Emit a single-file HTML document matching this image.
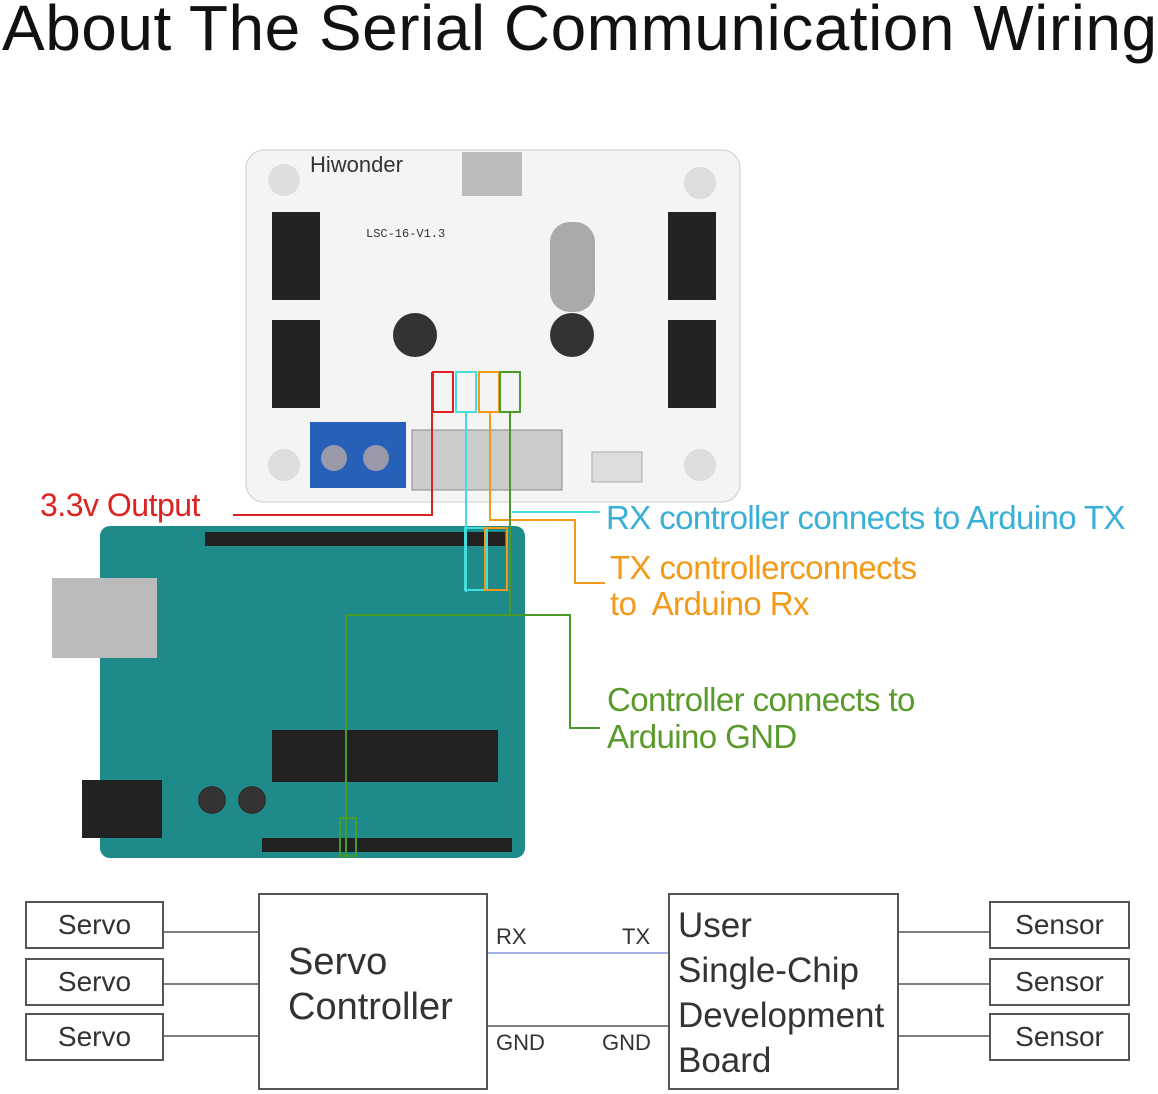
<!DOCTYPE html>
<html><head><meta charset="utf-8"><style>
body{margin:0;width:1158px;height:1094px;background:#fff;overflow:hidden;position:relative;font-family:"Liberation Sans",sans-serif}
.a{position:absolute}
.box{position:absolute;border:2px solid #555;background:#fff;box-sizing:border-box;font-size:28px;color:#333}
.sm{display:flex;align-items:center;justify-content:center}
</style></head><body>
<div class="a" style="left:2px;top:-9px;font-size:64px;color:#111;white-space:nowrap;letter-spacing:0.5px">About The Serial Communication Wiring</div>

<svg class="a" style="left:0;top:0" width="1158" height="1094">
<rect x="246" y="150" width="494" height="352" rx="18" fill="#f4f4f4" stroke="#ccc"/>
<rect x="462" y="152" width="60" height="44" fill="#bbb"/>
<text x="310" y="172" font-size="22" fill="#333" font-family="Liberation Sans">Hiwonder</text>
<text x="366" y="237" font-size="12" fill="#333" font-family="Liberation Mono">LSC-16-V1.3</text>
<g fill="#222"><rect x="272" y="212" width="48" height="88"/><rect x="272" y="320" width="48" height="88"/><rect x="668" y="212" width="48" height="88"/><rect x="668" y="320" width="48" height="88"/></g>
<circle cx="284" cy="180" r="16" fill="#ddd"/><circle cx="700" cy="183" r="16" fill="#ddd"/><circle cx="284" cy="465" r="16" fill="#ddd"/><circle cx="700" cy="465" r="16" fill="#ddd"/>
<circle cx="415" cy="335" r="22" fill="#333"/><circle cx="572" cy="335" r="22" fill="#333"/>
<rect x="550" y="222" width="45" height="90" rx="20" fill="#aaa"/>
<rect x="310" y="422" width="96" height="66" fill="#2760b8"/>
<circle cx="334" cy="458" r="13" fill="#99a"/><circle cx="376" cy="458" r="13" fill="#99a"/>
<rect x="412" y="430" width="150" height="60" fill="#ccc" stroke="#888"/>
<rect x="592" y="452" width="50" height="30" fill="#ddd" stroke="#aaa"/>
<rect x="100" y="526" width="425" height="332" rx="10" fill="#1f8a8a"/>
<rect x="52" y="578" width="105" height="80" fill="#bbb"/>
<rect x="82" y="780" width="80" height="58" fill="#222"/>
<rect x="272" y="730" width="226" height="52" fill="#222"/>
<rect x="205" y="532" width="300" height="14" fill="#222"/>
<rect x="262" y="838" width="250" height="14" fill="#222"/>
<circle cx="212" cy="800" r="14" fill="#333"/><circle cx="252" cy="800" r="14" fill="#333"/>
<g fill="none" stroke-width="2">
<path d="M432 372 L432 412 M432 412 L432 515 L233 515" stroke="#d22"/>
<rect x="433" y="372" width="20" height="40" stroke="#d22"/>
<rect x="456" y="372" width="20" height="40" stroke="#4dd"/>
<rect x="479" y="372" width="20" height="40" stroke="#f39a18"/>
<rect x="500" y="372" width="20" height="40" stroke="#4a9a2a"/>
<path d="M466 412 L466 592 M512 512 L600 512" stroke="#4dd"/>
<rect x="465" y="528" width="22" height="62" stroke="#4dd"/>
<rect x="485" y="528" width="22" height="62" stroke="#f39a18"/>
<path d="M490 412 L490 520 L575 520 L575 583 L605 583" stroke="#f39a18"/>
<path d="M510 412 L510 615 L570 615 L570 728 L600 728 M346 615 L510 615 M346 615 L346 855" stroke="#4a9a2a"/>
<rect x="340" y="818" width="16" height="38" stroke="#4a9a2a"/>
</g>
<g stroke="#555" stroke-width="1.5">
<line x1="163" y1="932" x2="258" y2="932"/><line x1="163" y1="984" x2="258" y2="984"/><line x1="163" y1="1036" x2="258" y2="1036"/>
<line x1="898" y1="932" x2="989" y2="932"/><line x1="898" y1="984" x2="989" y2="984"/><line x1="898" y1="1036" x2="989" y2="1036"/>
<line x1="487" y1="1026" x2="668" y2="1026"/>
</g>
<line x1="487" y1="953" x2="668" y2="953" stroke="#8899dd" stroke-width="1.5"/>
</svg>

<div class="a" style="left:40px;top:487px;font-size:32px;color:#d22;letter-spacing:-0.5px">3.3v Output</div>
<div class="a" style="left:606px;top:499px;font-size:33px;color:#3ab0d8;letter-spacing:-0.6px;white-space:nowrap">RX controller connects to Arduino TX</div>
<div class="a" style="left:610px;top:550px;font-size:33px;color:#f39a18;letter-spacing:-0.6px;line-height:36px;white-space:nowrap">TX controllerconnects<br>to&nbsp; Arduino Rx</div>
<div class="a" style="left:607px;top:681px;font-size:33px;color:#5a9a2a;letter-spacing:-0.6px;line-height:37px;white-space:nowrap">Controller connects to<br>Arduino GND</div>

<div class="box sm" style="left:25px;top:901px;width:139px;height:48px">Servo</div>
<div class="box sm" style="left:25px;top:958px;width:139px;height:48px">Servo</div>
<div class="box sm" style="left:25px;top:1013px;width:139px;height:48px">Servo</div>
<div class="box" style="left:258px;top:893px;width:230px;height:197px;font-size:38px;line-height:45px;padding:45px 0 0 28px">Servo<br>Controller</div>
<div class="box" style="left:668px;top:893px;width:231px;height:197px;font-size:35px;line-height:45px;padding:8px 0 0 8px">User<br>Single-Chip<br>Development<br>Board</div>
<div class="box sm" style="left:989px;top:901px;width:141px;height:48px">Sensor</div>
<div class="box sm" style="left:989px;top:958px;width:141px;height:48px">Sensor</div>
<div class="box sm" style="left:989px;top:1013px;width:141px;height:48px">Sensor</div>
<div class="a" style="left:496px;top:924px;font-size:22px;color:#333">RX</div>
<div class="a" style="left:622px;top:924px;font-size:22px;color:#333">TX</div>
<div class="a" style="left:496px;top:1030px;font-size:22px;color:#333">GND</div>
<div class="a" style="left:602px;top:1030px;font-size:22px;color:#333">GND</div>
</body></html>
